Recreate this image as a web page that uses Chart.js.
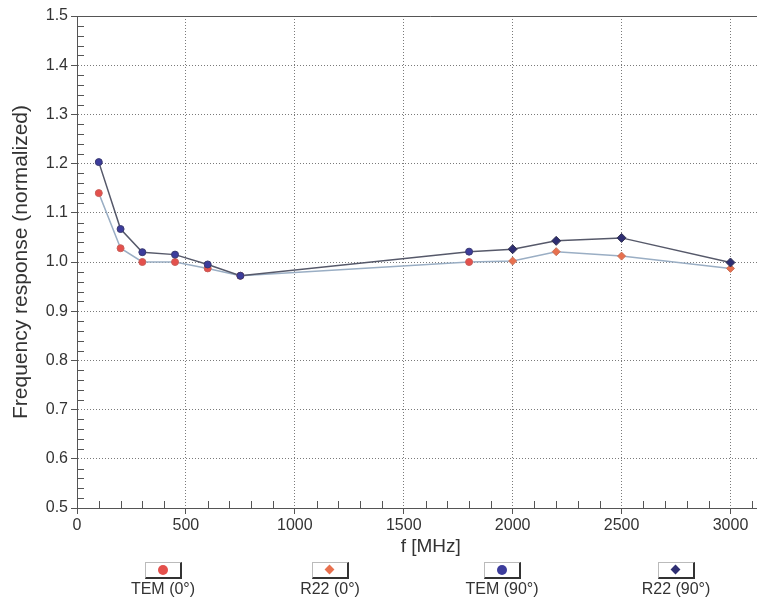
<!DOCTYPE html>
<html>
<head>
<meta charset="utf-8">
<script src="https://cdn.jsdelivr.net/npm/chart.js@4"></script>
<style>
  body { margin: 0; background: #fff; font-family: "Liberation Sans", Arial, sans-serif; }
  #wrap { position: relative; width: 757px; height: 601px; overflow: hidden; }
  .leg { position: absolute; top: 562px; width: 100px; text-align: center; color: #333; font-size: 16px; }
  .leg .box { width: 34px; height: 14px; margin: 0 auto 1px; background: #fff;
              border: 1px solid #bbb; border-right: 2px solid #333; border-bottom: 2px solid #333; position: relative; }
  .leg .mk { position: absolute; left: 12px; top: 2px; width: 10px; height: 10px; border-radius: 50%; }
  .leg .dm { position: absolute; left: 13px; top: 3px; width: 7px; height: 7px; transform: rotate(45deg); }
</style>
</head>
<body>
<div id="wrap">
  <canvas id="chart" width="790" height="601"></canvas>
  <div class="leg" style="left:113px"><div class="box"><div class="mk" style="background:#e4504c"></div></div>TEM (0°)</div>
  <div class="leg" style="left:280px"><div class="box"><div class="dm" style="background:#e8704e"></div></div>R22 (0°)</div>
  <div class="leg" style="left:452px"><div class="box"><div class="mk" style="background:#3c3c9c"></div></div>TEM (90°)</div>
  <div class="leg" style="left:626px"><div class="box"><div class="dm" style="background:#2e2e72"></div></div>R22 (90°)</div>
</div>
<script>
// frequencies in MHz
const freqTEM = [100, 200, 300, 450, 600, 750, 1800];
const freqR22 = [2000, 2200, 2500, 3000];

// normalized frequency response
const tem0  = [1.14, 1.028, 1.0, 1.0, 0.987, 0.972, 1.0];
const tem90 = [1.203, 1.067, 1.02, 1.015, 0.995, 0.972, 1.021];
const r22_0  = [1.002, 1.021, 1.012, 0.987];
const r22_90 = [1.026, 1.043, 1.049, 0.999];

const xTicks = [0, 500, 1000, 1500, 2000, 2500, 3000];
const yTicks = [0.5, 0.6, 0.7, 0.8, 0.9, 1.0, 1.1, 1.2, 1.3, 1.4, 1.5];

function pts(xs, ys) {
    return xs.map((x, i) => ({ x: x, y: ys[i] }));
}

// minor ticks inside the plot + solid top border
const frame = {
    id: 'frame',
    afterDraw(chart) {
        const ctx = chart.ctx;
        const a = chart.chartArea;
        const xs = chart.scales.x, ys = chart.scales.y;
        ctx.save();
        ctx.strokeStyle = '#555';
        ctx.lineWidth = 1;
        ctx.beginPath();
        for (let v = 100; v <= 3200; v += 100) {
            if (v % 500 === 0) continue;
            const px = Math.round(xs.getPixelForValue(v)) + 0.5;
            ctx.moveTo(px, a.bottom);
            ctx.lineTo(px, a.bottom - 7);
        }
        for (let i = 1; i < 50; i++) {
            if (i % 5 === 0) continue;
            const py = Math.round(ys.getPixelForValue(0.5 + i * 0.02)) + 0.5;
            ctx.moveTo(a.left, py);
            ctx.lineTo(a.left + 7, py);
        }
        ctx.moveTo(a.left, a.top + 0.5);
        ctx.lineTo(a.right, a.top + 0.5);
        ctx.stroke();
        ctx.restore();
    }
};

new Chart(document.getElementById('chart'), {
    type: 'scatter',
    data: {
        datasets: [
            {
                label: 'line 0',
                data: pts(freqTEM.concat(freqR22), tem0.concat(r22_0)),
                showLine: true, borderColor: '#9aaec4', borderWidth: 1.5,
                pointRadius: 0, order: 6
            },
            {
                label: 'line 90',
                data: pts(freqTEM.concat(freqR22), tem90.concat(r22_90)),
                showLine: true, borderColor: '#56596a', borderWidth: 1.5,
                pointRadius: 0, order: 5
            },
            {
                label: 'TEM (0°)', data: pts(freqTEM, tem0),
                backgroundColor: '#e4504c', borderColor: '#c8605a', borderWidth: 1,
                pointRadius: 3.5, order: 2
            },
            {
                label: 'R22 (0°)', data: pts(freqR22, r22_0),
                backgroundColor: '#e8704e', borderColor: '#c87058', borderWidth: 1,
                pointStyle: 'rectRot', pointRadius: 4, order: 2
            },
            {
                label: 'TEM (90°)', data: pts(freqTEM, tem90),
                backgroundColor: '#3c3c9c', borderColor: '#3a3a70', borderWidth: 1,
                pointRadius: 3.5, order: 1
            },
            {
                label: 'R22 (90°)', data: pts(freqR22, r22_90),
                backgroundColor: '#2e2e72', borderColor: '#333350', borderWidth: 1,
                pointStyle: 'rectRot', pointRadius: 4.5, order: 1
            }
        ]
    },
    options: {
        responsive: false,
        animation: false,
        layout: { padding: { top: 16, right: 0, bottom: 43, left: 4 } },
        plugins: { legend: { display: false }, tooltip: { enabled: false } },
        scales: {
            x: {
                type: 'linear', min: 0, max: 3248,
                afterBuildTicks: s => { s.ticks = xTicks.map(v => ({ value: v })); },
                afterFit: s => { s.height = 50; },
                ticks: { color: '#333', font: { size: 16, family: 'Liberation Sans' }, padding: 2, maxRotation: 0,
                         includeBounds: false, autoSkip: false, callback: v => String(v) },
                grid: {
                    color: ctx => (ctx.tick && ctx.tick.value > 0 && ctx.tick.value <= 3000) ? '#7a7a7a' : 'transparent',
                    tickColor: '#555', tickLength: 6, lineWidth: 1
                },
                border: { display: true, color: '#555', dash: [1, 2] },
                title: { display: true, text: 'f [MHz]', color: '#333',
                         font: { size: 19, family: 'Liberation Sans' }, padding: { top: 0, bottom: 0 } }
            },
            y: {
                type: 'linear', min: 0.5, max: 1.5,
                afterBuildTicks: s => { s.ticks = yTicks.map(v => ({ value: v })); },
                afterFit: s => { s.width = 73; },
                ticks: { color: '#333', font: { size: 16, family: 'Liberation Sans' }, padding: 3,
                         callback: v => v.toFixed(1) },
                grid: {
                    color: ctx => (ctx.tick && ctx.tick.value > 0.55 && ctx.tick.value < 1.45) ? '#7a7a7a' : 'transparent',
                    tickColor: '#555', tickLength: 6, lineWidth: 1
                },
                border: { display: true, color: '#555', dash: [1, 2] },
                title: { display: true, text: 'Frequency response (normalized)', color: '#333',
                         font: { size: 21, family: 'Liberation Sans' }, padding: { top: 5, bottom: 0 } }
            }
        }
    },
    plugins: [frame]
});
</script>
</body>
</html>
